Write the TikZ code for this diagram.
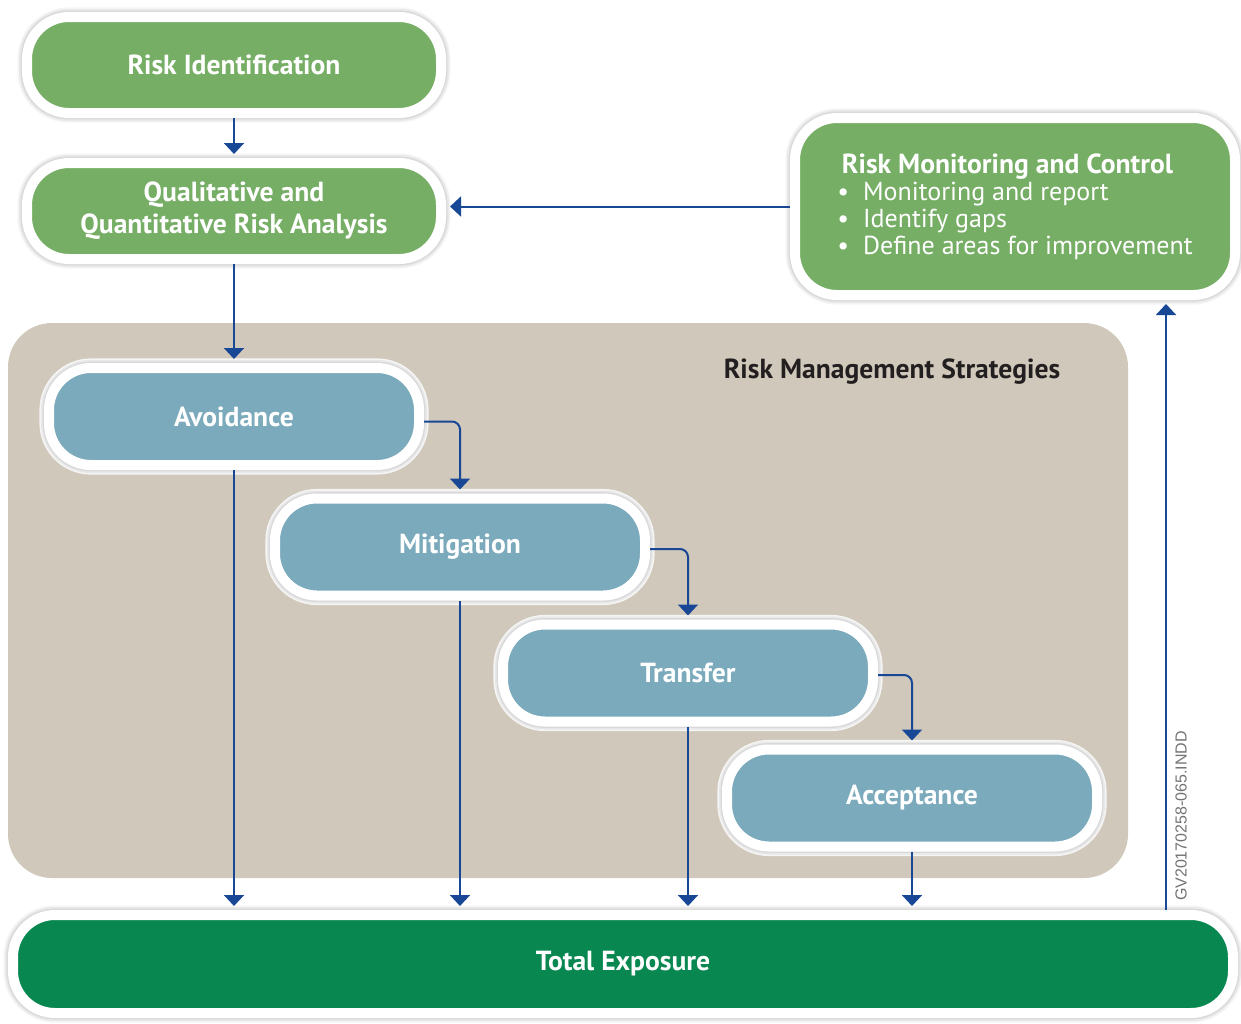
\documentclass[tikz,border=0pt]{standalone}
\usepackage{fontspec}
\setmainfont{PT Sans}
\newfontfamily\tagfont{Liberation Sans}
\usetikzlibrary{arrows.meta}
\definecolor{riskgreen}{RGB}{118,174,101}
\definecolor{stratblue}{RGB}{122,170,187}
\definecolor{panelbeige}{RGB}{208,200,186}
\definecolor{exposuregreen}{RGB}{8,135,80}
\definecolor{flowblue}{RGB}{24,71,150}
\definecolor{labeldark}{RGB}{35,31,32}
\tikzset{
  stage/.style={draw=white, line width=5pt, rounded corners=21pt, inner sep=0pt,
    text=white, align=center, font=\fontsize{13.8}{16}\selectfont\bfseries,
    preaction={draw=black!4, line width=9.6pt},
    preaction={draw=black!9, line width=8pt},
    preaction={draw=black!15, line width=6.4pt}},
  greenstage/.style={stage, fill=riskgreen, minimum width=207pt, minimum height=48pt},
  bluestage/.style={stage, fill=stratblue, minimum width=185pt, minimum height=48.5pt},
  flow/.style={draw=flowblue, line width=1pt, -{Triangle[width=10pt,length=5.5pt]},
    shorten >=2pt},
}
\begin{document}
\begin{tikzpicture}[x=0.5pt, y=-0.5pt]
  \useasboundingbox (0,0) rectangle (1241,1023);
  % strategies panel
  \fill[panelbeige, rounded corners=22pt] (8,323) rectangle (1128,878);
  \node[font=\fontsize{13.8}{16}\selectfont\bfseries, text=labeldark] (stratlabel) at (892,372) {Risk Management Strategies};

  \node[greenstage] (riskid) at (234,65) {Risk Identification};
  \node[greenstage] (analysis) at (234,211) {Qualitative and\\Quantitative Risk Analysis};
  \node[stage, fill=riskgreen, minimum width=220pt, minimum height=88.5pt, align=left,
    font=\fontsize{13}{13.5}\selectfont] (monitor) at (1015,206.5)
    {{\fontsize{13.8}{13.5}\selectfont\bfseries\,Risk Monitoring and Control}\\
     \textbullet\hspace{7pt}Monitoring and report\\
     \textbullet\hspace{7pt}Identify gaps\\
     \textbullet\hspace{7pt}Define areas for improvement};

  \node[bluestage] (avoid) at (234,416.5) {Avoidance};
  \node[bluestage] (mitig) at (460,547) {Mitigation};
  \node[bluestage] (transf) at (688,673) {Transfer};
  \node[bluestage] (accept) at (912,798) {Acceptance};

  \node[stage, fill=exposuregreen, minimum width=610pt, minimum height=49pt] (total) at (623,964) {Total Exposure};
  \coordinate (feedback) at (1166,910);
  \node[rotate=90, font=\tagfont\fontsize{8}{9}\selectfont, text=black!55] (tag) at (1181,816) {GV20170258-065.INDD};

  \draw[flow] (riskid.south) -- (analysis.north);
  \draw[flow] (monitor.west) -- (monitor.west -| analysis.east);
  \draw[flow] (analysis.south) -- (avoid.north);
  \draw[flow, rounded corners=4pt] ([yshift=-2.5pt]avoid.east) -| (mitig.north);
  \draw[flow, rounded corners=4pt] ([yshift=-1pt]mitig.east) -| (transf.north);
  \draw[flow, rounded corners=4pt] ([yshift=-1pt]transf.east) -| (accept.north);
  \draw[flow] (avoid.south) -- (avoid.south |- total.north);
  \draw[flow] (mitig.south) -- (mitig.south |- total.north);
  \draw[flow] (transf.south) -- (transf.south |- total.north);
  \draw[flow] (accept.south) -- (accept.south |- total.north);
  \draw[flow] (feedback) -- (feedback |- monitor.south);
\end{tikzpicture}
\end{document}
